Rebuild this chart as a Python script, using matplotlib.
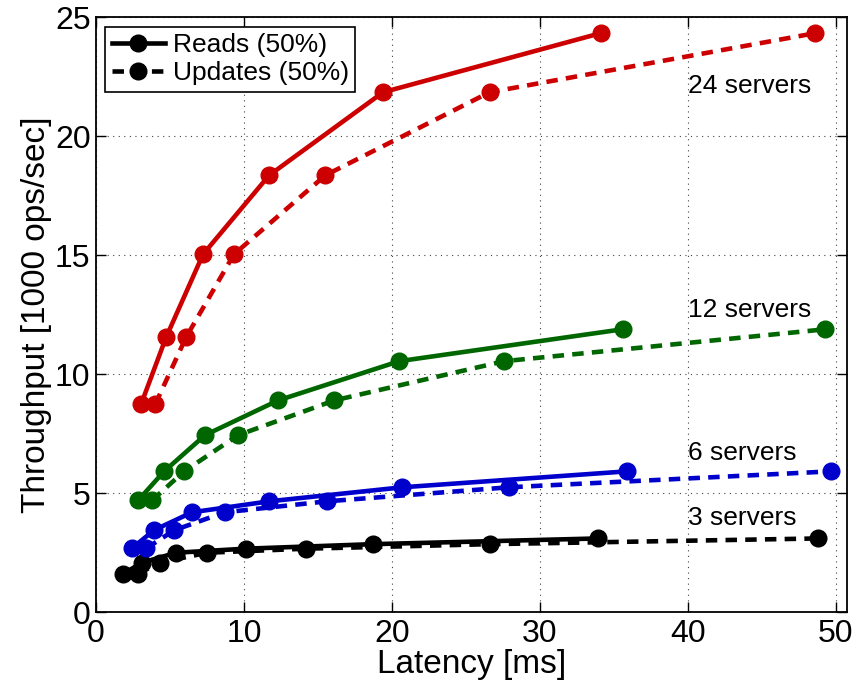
import numpy as np
import matplotlib
matplotlib.use('Agg')
import matplotlib.pyplot as plt
from matplotlib.lines import Line2D

plt.rcParams['font.family'] = ['Liberation Sans', 'DejaVu Sans']

# throughput (1000 ops/sec) and latency (ms) per cluster size
labels = ['3 servers', '6 servers', '12 servers', '24 servers']
colors = ['#000000', '#0000CC', '#006600', '#CC0000']

thr_3 = [1.62, 2.08, 2.5, 2.67, 2.86, 3.1]
lat_read_3 = [1.84, 3.1, 5.4, 10.1, 18.7, 33.9]
lat_upd_3 = [2.84, 4.3, 7.5, 14.2, 26.6, 48.8]

thr_6 = [2.69, 3.45, 4.2, 4.66, 5.25, 5.92]
lat_read_6 = [2.43, 3.92, 6.49, 11.7, 20.7, 35.9]
lat_upd_6 = [3.4, 5.3, 8.7, 15.6, 27.9, 49.7]

thr_12 = [4.7, 5.92, 7.44, 8.9, 10.55, 11.89]
lat_read_12 = [2.84, 4.6, 7.36, 12.3, 20.5, 35.6]
lat_upd_12 = [3.78, 5.95, 9.6, 16.1, 27.6, 49.3]

thr_24 = [8.74, 11.55, 15.04, 18.36, 21.85, 24.33]
lat_read_24 = [3.04, 4.73, 7.23, 11.7, 19.4, 34.1]
lat_upd_24 = [4.0, 6.08, 9.32, 15.5, 26.6, 48.6]

thr = [thr_3, thr_6, thr_12, thr_24]
lat_read = [lat_read_3, lat_read_6, lat_read_12, lat_read_24]
lat_upd = [lat_upd_3, lat_upd_6, lat_upd_12, lat_upd_24]
label_y = [3.95, 6.7, 12.7, 22.1]

dash = (0, (2.5, 1.8))

fig = plt.figure(figsize=(8.58, 6.91), dpi=100)
ax = fig.add_axes([0.112, 0.114, 0.875, 0.861])

for i in range(4):
    ax.plot(lat_read[i], thr[i], '-', color=colors[i], lw=3.3, marker='o', ms=12)
    ax.plot(lat_upd[i], thr[i], linestyle=dash, color=colors[i], lw=3.3, marker='o', ms=12)
    ax.text(40, label_y[i], labels[i], fontsize=19, va='center', ha='left')

ax.set_xlim(0, 50.75)
ax.set_ylim(0, 25)
ax.set_xticks([0, 10, 20, 30, 40, 50])
ax.set_yticks([0, 5, 10, 15, 20, 25])
ax.grid(True, linestyle=(0, (1, 4)), color='#444444', lw=0.8)
ax.tick_params(direction='in', top=True, right=True, length=7, width=1, labelsize=23)
ax.tick_params(axis='x', pad=5)
ax.tick_params(axis='y', pad=4)
for s in ax.spines.values():
    s.set_linewidth(1.3)

ax.set_xlabel('Latency [ms]', fontsize=24, labelpad=0)
ax.set_ylabel('Throughput [1000 ops/sec]', fontsize=24, labelpad=2)

handles = [Line2D([], [], color='k', lw=3.3, marker='o', ms=12, linestyle='-'),
           Line2D([], [], color='k', lw=3.3, marker='o', ms=12, linestyle=dash)]
leg = ax.legend(handles, ['Reads (50%)', 'Updates (50%)'], loc='upper left', fontsize=19,
                fancybox=False, framealpha=1, edgecolor='k', borderpad=0.25,
                handlelength=2.0, handletextpad=0.3, labelspacing=0.15,
                borderaxespad=0.35)
leg.get_frame().set_linewidth(1.2)

fig.savefig('out.png', dpi=100)
